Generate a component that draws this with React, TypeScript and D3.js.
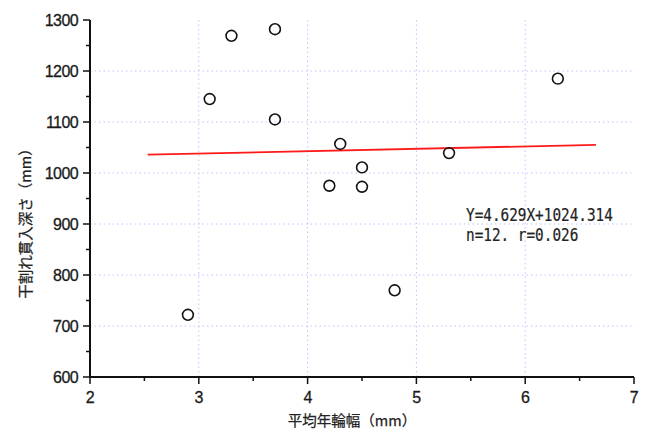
import React from "react";
import * as d3 from "d3";

const ringWidth = [2.9, 3.1, 3.3, 3.7, 3.7, 4.3, 4.2, 4.5, 4.5, 4.8, 5.3, 6.3];
const crackDepth = [722, 1145, 1269, 1282, 1105, 1057, 975, 1011, 973, 770, 1039, 1185];
const xTicks = [2, 3, 4, 5, 6, 7];
const yTicks = [600, 700, 800, 900, 1000, 1100, 1200, 1300];
const fitSlope = 4.629;
const fitIntercept = 1024.314;
const fitRange = [2.53, 6.65];
const annotation = ["Y=4.629X+1024.314", "n=12. r=0.026"];

const W = 645, H = 433;
const M = { left: 90, right: 11, top: 20, bottom: 56 };

export default function App() {
  const x = d3.scaleLinear().domain([2, 7]).range([M.left, W - M.right]);
  const y = d3.scaleLinear().domain([600, 1300]).range([H - M.bottom, M.top]);
  const minorX = d3.range(2.5, 7, 1);
  const minorY = d3.range(650, 1300, 100);
  const line = d3.line<number>().x((v) => x(v)).y((v) => y(fitSlope * v + fitIntercept));
  const fnt = "'Liberation Sans', Arial, sans-serif";
  const jp = "'Noto Sans CJK JP', sans-serif";
  return (
    <svg width={W} height={H} style={{ position: "absolute", left: 0, top: 0, background: "#fff" }}>
      {/* grid */}
      {xTicks.slice(1, -1).map((t) => (
        <line key={"gx" + t} x1={x(t)} x2={x(t)} y1={y(1300)} y2={y(600)} stroke="#c0c0ff" strokeWidth={1} strokeDasharray="1.5,3" />
      ))}
      {yTicks.slice(1, -1).map((t) => (
        <line key={"gy" + t} x1={x(2)} x2={x(7)} y1={y(t)} y2={y(t)} stroke="#c0c0ff" strokeWidth={1} strokeDasharray="1.5,3" />
      ))}
      {/* fit line */}
      <path d={line(fitRange) || ""} stroke="#ff1a1a" strokeWidth={1.8} fill="none" />
      {/* points */}
      {ringWidth.map((v, i) => (
        <circle key={i} cx={x(v)} cy={y(crackDepth[i])} r={5.4} fill="none" stroke="#111" strokeWidth={1.6} />
      ))}
      {/* axes */}
      <line x1={x(2)} x2={x(7)} y1={y(600)} y2={y(600)} stroke="#111" strokeWidth={2} />
      <line x1={x(2)} x2={x(2)} y1={y(600)} y2={y(1300)} stroke="#111" strokeWidth={2} />
      {xTicks.map((t) => (
        <g key={"xt" + t}>
          <line x1={x(t)} x2={x(t)} y1={y(600)} y2={y(600) + 7} stroke="#111" strokeWidth={1.5} />
          <text x={x(t)} y={y(600) + 26} textAnchor="middle" fontFamily={fnt} fontSize={16} fill="#1a1a1a" stroke="#1a1a1a" strokeWidth={0.3} letterSpacing={-0.5}>{t}</text>
        </g>
      ))}
      {minorX.map((t) => (
        <line key={"mx" + t} x1={x(t)} x2={x(t)} y1={y(600)} y2={y(600) + 4} stroke="#111" strokeWidth={1.5} />
      ))}
      {yTicks.map((t) => (
        <g key={"yt" + t}>
          <line x1={x(2) - 7} x2={x(2)} y1={y(t)} y2={y(t)} stroke="#111" strokeWidth={1.5} />
          <text x={x(2) - 12} y={y(t) + 6} textAnchor="end" fontFamily={fnt} fontSize={16} fill="#1a1a1a" stroke="#1a1a1a" strokeWidth={0.3} letterSpacing={-0.6}>{t}</text>
        </g>
      ))}
      {minorY.map((t) => (
        <line key={"my" + t} x1={x(2) - 4} x2={x(2)} y1={y(t)} y2={y(t)} stroke="#111" strokeWidth={1.5} />
      ))}
      {/* labels */}
      <text x={352} y={426} textAnchor="middle" fontFamily={jp} fontSize={14.5} fill="#222" stroke="#222" strokeWidth={0.25}>平均年輪幅（mm）</text>
      <text transform="translate(31,220) rotate(-90)" textAnchor="middle" fontFamily={jp} fontSize={14.5} fill="#222" stroke="#222" strokeWidth={0.25}>干割れ貫入深さ（mm）</text>
      {annotation.map((s, i) => (
        <text key={s} transform={`translate(466,${221 + i * 20}) scale(0.845,1)`} fontFamily="'DejaVu Sans Mono', monospace" fontSize={17} fill="#222" stroke="#222" strokeWidth={0.2}>{s}</text>
      ))}
    </svg>
  );
}
